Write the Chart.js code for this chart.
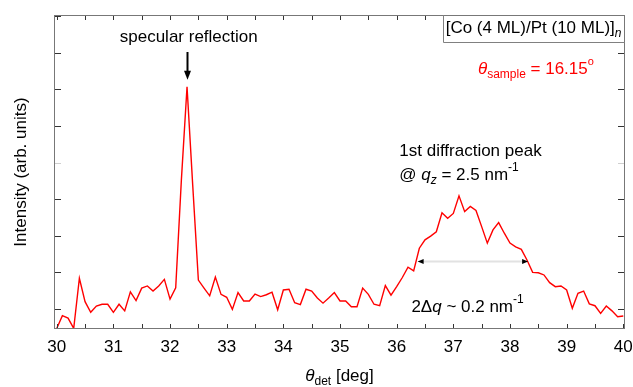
<!DOCTYPE html>
<html>
<head>
<meta charset="utf-8">
<script src="https://cdn.jsdelivr.net/npm/chart.js@4.4.1/dist/chart.umd.min.js"></script>
<style>
  html, body { margin: 0; padding: 0; background: #fff; }
  #chart { display: block; }
</style>
</head>
<body>
<canvas id="chart" width="633" height="387"></canvas>
<script>
// detector angle (deg) and measured intensity (arb. units)
const thetaDet = [
  30.0, 30.1, 30.2, 30.3, 30.4, 30.5, 30.6, 30.7, 30.8, 30.9,
  31.0, 31.1, 31.2, 31.3, 31.4, 31.5, 31.6, 31.7, 31.8, 31.9,
  32.0, 32.1, 32.2, 32.3, 32.4, 32.5, 32.6, 32.7, 32.8, 32.9,
  33.0, 33.1, 33.2, 33.3, 33.4, 33.5, 33.6, 33.7, 33.8, 33.9,
  34.0, 34.1, 34.2, 34.3, 34.4, 34.5, 34.6, 34.7, 34.8, 34.9,
  35.0, 35.1, 35.2, 35.3, 35.4, 35.5, 35.6, 35.7, 35.8, 35.9,
  36.0, 36.1, 36.2, 36.3, 36.4, 36.5, 36.6, 36.7, 36.8, 36.9,
  37.0, 37.1, 37.2, 37.3, 37.4, 37.5, 37.6, 37.7, 37.8, 37.9,
  38.0, 38.1, 38.2, 38.3, 38.4, 38.5, 38.6, 38.7, 38.8, 38.9,
  39.0, 39.1, 39.2, 39.3, 39.4, 39.5, 39.6, 39.7, 39.8, 39.9,
  40.0
];
const intensity = [
  -0.53, -0.18, -0.25, -0.53, 0.84, 0.20, -0.09, 0.08, 0.13, 0.13,
  -0.09, 0.13, -0.05, 0.47, 0.23, 0.57, 0.63, 0.49, 0.63, 0.81,
  0.27, 0.58, 3.52, 6.07, 3.39, 0.79, 0.57, 0.36, 0.87, 0.40,
  0.32, -0.01, 0.45, 0.22, 0.22, 0.41, 0.34, 0.39, 0.46, -0.02,
  0.52, 0.54, 0.17, 0.12, 0.54, 0.49, 0.30, 0.16, 0.30, 0.45,
  0.22, 0.22, 0.06, 0.06, 0.57, 0.40, 0.13, 0.09, 0.64, 0.38,
  0.61, 0.86, 1.14, 1.04, 1.66, 1.89, 1.99, 2.11, 2.63, 2.48,
  2.61, 3.09, 2.66, 2.80, 2.69, 2.25, 1.80, 2.16, 2.36, 2.07,
  1.80, 1.70, 1.63, 1.34, 1.00, 0.99, 0.93, 0.72, 0.61, 0.63,
  0.52, 0.02, 0.43, 0.49, 0.14, 0.09, -0.12, 0.08, -0.05, -0.21,
  -0.19
];

const xTicks = [30, 31, 32, 33, 34, 35, 36, 37, 38, 39, 40];
const xMinorTicks = [30.5, 31.5, 32.5, 33.5, 34.5, 35.5, 36.5, 37.5, 38.5, 39.5];
const yTicks = [0, 1, 2, 3, 4, 5, 6, 7, 8];

const FAMILY = "'Liberation Sans', Arial, sans-serif";

function fontStr(size, italic) {
  return (italic ? 'italic ' : '') + size + 'px ' + FAMILY;
}

// draws a run of text pieces (sub/superscripts, italics) from left to right
function drawRich(ctx, x, y, parts, align, color) {
  let total = 0;
  parts.forEach(p => {
    ctx.font = fontStr(p.size || 17, p.italic);
    p.w = ctx.measureText(p.t).width;
    total += p.w;
  });
  let cx = align === 'center' ? x - total / 2 : x;
  ctx.textAlign = 'left';
  ctx.textBaseline = 'alphabetic';
  parts.forEach(p => {
    ctx.font = fontStr(p.size || 17, p.italic);
    ctx.fillStyle = p.color || color || '#000';
    ctx.fillText(p.t, cx, y + (p.dy || 0));
    cx += p.w;
  });
}

const framePlugin = {
  id: 'frame',
  afterDatasetsDraw(chart) {
    const ctx = chart.ctx;
    const a = chart.chartArea;
    const xs = chart.scales.x, ys = chart.scales.y;
    ctx.save();
    ctx.lineWidth = 1;
    // inward ticks on all four sides
    ctx.strokeStyle = '#333';
    ctx.beginPath();
    xTicks.concat(xMinorTicks).forEach(v => {
      const px = Math.round(xs.getPixelForValue(v)) + 0.5;
      ctx.moveTo(px, a.bottom); ctx.lineTo(px, a.bottom - 5);
      ctx.moveTo(px, a.top); ctx.lineTo(px, a.top + 5);
    });
    ctx.stroke();
    yTicks.forEach(v => {
      const py = Math.round(ys.getPixelForValue(v)) + 0.5;
      ctx.strokeStyle = v === 4 ? '#cfcfcf' : '#333';
      ctx.beginPath();
      ctx.moveTo(a.left, py); ctx.lineTo(a.left + 7, py);
      ctx.moveTo(a.right, py); ctx.lineTo(a.right - 7, py);
      ctx.stroke();
    });
    ctx.strokeStyle = '#777';
    ctx.strokeRect(Math.round(a.left) + 0.5, Math.round(a.top) + 0.5,
      Math.round(a.right - a.left) - 1, Math.round(a.bottom - a.top) - 1);
    ctx.restore();
  }
};

const notesPlugin = {
  id: 'notes',
  afterDraw(chart) {
    const ctx = chart.ctx;
    const a = chart.chartArea;
    const xs = chart.scales.x, ys = chart.scales.y;
    const X = v => xs.getPixelForValue(v);
    const Y = v => ys.getPixelForValue(v);
    ctx.save();

    // specular reflection label and arrow
    drawRich(ctx, X(32.33), Y(7.30), [{ t: 'specular reflection' }], 'center');
    const ax = Math.round(X(32.3)) + 0.5;
    ctx.strokeStyle = '#000';
    ctx.fillStyle = '#000';
    ctx.lineWidth = 2;
    ctx.beginPath();
    ctx.moveTo(ax, Y(7.02));
    ctx.lineTo(ax, Y(6.26) - 8);
    ctx.stroke();
    ctx.beginPath();
    ctx.moveTo(ax - 3.5, Y(6.26) - 9);
    ctx.lineTo(ax + 3.5, Y(6.26) - 9);
    ctx.lineTo(ax, Y(6.26));
    ctx.closePath();
    ctx.fill();

    // sample box in the top right corner
    const bx = Math.round(X(36.81)) + 0.5;
    const by = Math.round(Y(7.30)) + 0.5;
    ctx.fillStyle = '#fff';
    ctx.fillRect(bx, a.top + 1, a.right - bx - 1, by - a.top - 1);
    ctx.strokeStyle = '#808080';
    ctx.lineWidth = 1;
    ctx.beginPath();
    ctx.moveTo(bx, a.top);
    ctx.lineTo(bx, by);
    ctx.lineTo(a.right, by);
    ctx.stroke();
    drawRich(ctx, X(36.865), Y(7.54), [
      { t: '[Co (4 ML)/Pt (10 ML)]' },
      { t: 'n', size: 12, italic: true, dy: 4 }
    ]);

    // sample angle
    drawRich(ctx, X(37.434), Y(6.42), [
      { t: '\u03b8', italic: true },
      { t: 'sample', size: 12, dy: 4 },
      { t: ' = 16.15' },
      { t: 'o', size: 11, dy: -9 }
    ], 'left', '#ff0000');

    // diffraction peak labels
    drawRich(ctx, X(36.046), Y(4.18), [{ t: '1st diffraction peak' }]);
    drawRich(ctx, X(36.046), Y(3.52), [
      { t: '@ ' },
      { t: 'q', italic: true },
      { t: 'z', size: 12, italic: true, dy: 4 },
      { t: ' = 2.5 nm' },
      { t: '-1', size: 12, dy: -9 }
    ]);

    // width marker
    const wy = Math.round(Y(1.31)) + 0.5;
    const w0 = X(36.37), w1 = X(38.32);
    ctx.strokeStyle = '#e2e2e2';
    ctx.lineWidth = 2;
    ctx.beginPath();
    ctx.moveTo(w0 + 4, wy);
    ctx.lineTo(w1 - 4, wy);
    ctx.stroke();
    ctx.fillStyle = '#000';
    ctx.beginPath();
    ctx.moveTo(w0, wy); ctx.lineTo(w0 + 6, wy - 2.5); ctx.lineTo(w0 + 6, wy + 2.5);
    ctx.closePath(); ctx.fill();
    ctx.beginPath();
    ctx.moveTo(w1, wy); ctx.lineTo(w1 - 6, wy - 2.5); ctx.lineTo(w1 - 6, wy + 2.5);
    ctx.closePath(); ctx.fill();
    drawRich(ctx, X(36.26), Y(-0.07), [
      { t: '2\u0394' },
      { t: 'q', italic: true },
      { t: ' ~ 0.2 nm' },
      { t: '-1', size: 12, dy: -9 }
    ]);

    // x axis title
    drawRich(ctx, (a.left + a.right) / 2, 381, [
      { t: '\u03b8', italic: true },
      { t: 'det', size: 12, dy: 4 },
      { t: ' [deg]' }
    ], 'center');

    ctx.restore();
  }
};

new Chart(document.getElementById('chart'), {
  type: 'line',
  data: {
    datasets: [{
      data: thetaDet.map((t, i) => ({ x: t, y: intensity[i] })),
      borderColor: '#ff0000',
      borderWidth: 1.4,
      pointRadius: 0,
      tension: 0,
      fill: false
    }]
  },
  options: {
    responsive: false,
    animation: false,
    devicePixelRatio: 1,
    layout: { padding: { left: 0, right: 8, top: 15, bottom: 0 } },
    plugins: { legend: { display: false }, tooltip: { enabled: false } },
    scales: {
      x: {
        type: 'linear',
        min: 29.952,
        max: 40.03,
        grid: { display: false },
        border: { display: false },
        afterBuildTicks: s => { s.ticks = xTicks.map(v => ({ value: v })); },
        afterFit: s => { s.height = 58; s.paddingLeft = 0; s.paddingRight = 0; },
        ticks: {
          font: { family: FAMILY, size: 17 },
          color: '#000',
          padding: 0,
          maxRotation: 0,
          autoSkip: false
        }
      },
      y: {
        min: -0.546,
        max: 8.03,
        grid: { display: false },
        border: { display: false },
        ticks: { display: false },
        afterFit: s => { s.width = 54; },
        title: {
          display: true,
          text: 'Intensity (arb. units)',
          font: { family: FAMILY, size: 17 },
          color: '#000',
          padding: { top: 11, bottom: 0 }
        }
      }
    }
  },
  plugins: [framePlugin, notesPlugin]
});
</script>
</body>
</html>
